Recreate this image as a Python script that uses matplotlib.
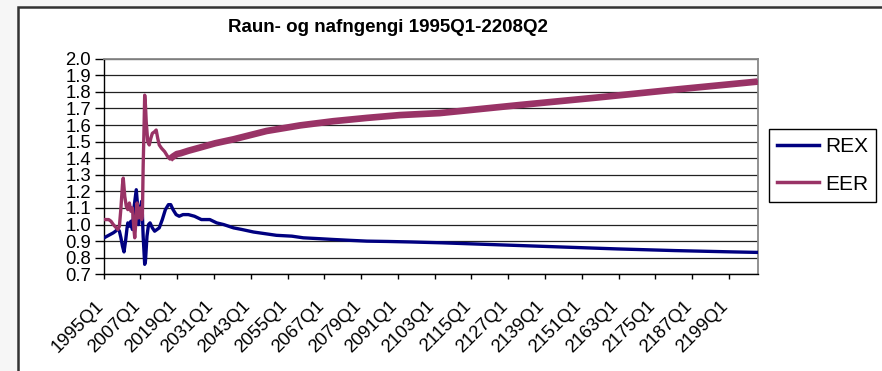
import matplotlib
matplotlib.use("Agg")
import matplotlib.pyplot as plt
from matplotlib.lines import Line2D
from matplotlib.patches import Rectangle
from matplotlib.transforms import ScaledTranslation
import numpy as np

plt.rcParams['font.family'] = ['Liberation Sans', 'DejaVu Sans']

title = "Raun- og nafngengi 1995Q1-2208Q2"
n_quarters = 854  # 1995Q1 .. 2208Q2

tick_labels = ["1995Q1", "2007Q1", "2019Q1", "2031Q1", "2043Q1", "2055Q1",
               "2067Q1", "2079Q1", "2091Q1", "2103Q1", "2115Q1", "2127Q1",
               "2139Q1", "2151Q1", "2163Q1", "2175Q1", "2187Q1", "2199Q1"]
tick_quarters = [0, 48, 96, 144, 192, 240, 288, 336, 384, 432, 480, 528,
                 576, 624, 672, 720, 768, 816]

rex_q = [0, 4, 8, 12, 15, 18, 20, 22, 24, 26, 28, 30, 31, 33, 35, 37, 39, 42,
         44, 45, 47, 49, 50, 51, 53, 54, 56, 58, 60, 63, 66, 69, 72, 76, 80,
         84, 87, 90, 94, 98, 103, 110, 118, 127, 138, 147, 156, 169, 180, 195,
         210, 225, 245, 260, 280, 299, 320, 343, 370, 400, 440, 520, 595, 670,
         745, 821, 853]
rex_v = [0.92, 0.93, 0.94, 0.95, 0.96, 0.975, 0.96, 0.92, 0.87, 0.835, 0.90,
         0.98, 1.01, 0.99, 1.02, 0.97, 1.10, 1.21, 1.10, 1.00, 1.08, 1.14,
         1.06, 0.93, 0.76, 0.78, 0.93, 1.00, 1.01, 0.98, 0.96, 0.97, 0.98,
         1.03, 1.09, 1.12, 1.12, 1.09, 1.06, 1.05, 1.06, 1.06, 1.05, 1.03,
         1.03, 1.01, 1.00, 0.98, 0.97, 0.955, 0.945, 0.935, 0.93, 0.92, 0.915,
         0.91, 0.905, 0.90, 0.898, 0.895, 0.89, 0.877, 0.865, 0.853, 0.843,
         0.835, 0.832]

eer_q = [0, 6, 9, 12, 15, 18, 20, 22, 24, 25, 27, 29, 31, 33, 35, 37, 39, 40,
         42, 43, 45, 47, 49, 50, 51, 52, 53, 54, 55, 57, 59, 61, 63, 66, 68,
         70, 72, 75, 79, 83, 86, 90, 95, 100, 110, 125, 145, 169, 212, 256,
         299, 343, 386, 438, 543, 646, 750, 853]
eer_v = [1.03, 1.03, 1.02, 1.00, 0.985, 0.97, 0.99, 1.10, 1.24, 1.28, 1.17,
         1.11, 1.09, 1.13, 1.08, 1.10, 0.97, 0.92, 1.05, 1.13, 1.04, 1.10,
         1.03, 1.05, 1.35, 1.55, 1.78, 1.72, 1.62, 1.50, 1.48, 1.52, 1.55,
         1.56, 1.57, 1.52, 1.48, 1.46, 1.44, 1.41, 1.395, 1.41, 1.425, 1.43,
         1.445, 1.464, 1.49, 1.514, 1.564, 1.598, 1.623, 1.643, 1.66, 1.672,
         1.721, 1.767, 1.816, 1.862]

REX_COLOR = "#000080"
EER_COLOR = "#993366"

W, H = 882, 371
fig = plt.figure(figsize=(W / 100, H / 100), dpi=100, facecolor="#f6f6f6")

# chart-area frame (extends past right/bottom edge)
frame = Rectangle((17.5 / W, -0.2), 1.2, 0.2 + 1 - 6.5 / H,
                  transform=fig.transFigure, facecolor="white",
                  edgecolor="#333333", linewidth=1.8, zorder=-10)
fig.patches.append(frame)

ax = fig.add_axes([103.7 / W, 1 - 274.3 / H, (758 - 103.7) / W, (274.3 - 58.7) / H])
ax.set_facecolor("white")

xr = np.array(rex_q) + 0.5
xe = np.array(eer_q) + 0.5
ax.plot(xr, rex_v, color=REX_COLOR, lw=2.4, solid_joinstyle="round", zorder=3)
ax.plot(xe, eer_v, color=EER_COLOR, lw=2.4, solid_joinstyle="round", zorder=4)
split = eer_q.index(86)
ax.plot(xe[split:], eer_v[split:], color=EER_COLOR, lw=4.8, zorder=4,
        solid_capstyle="butt")

ax.set_xlim(0, n_quarters)
ax.set_ylim(0.7, 2.0)
yt = np.round(np.arange(0.7, 2.001, 0.1), 1)
ax.set_yticks(yt)
ax.set_yticklabels([f"{v:.1f}" for v in yt])
ax.yaxis.grid(True, color="#222222", lw=0.9)
ax.set_axisbelow(True)

ax.set_xticks(tick_quarters)
ax.set_xticklabels(tick_labels, rotation=45, ha="right", va="top",
                   rotation_mode="anchor")
ax.tick_params(axis="x", length=3.6, width=1, pad=13, labelsize=13.3, direction="out")
ax.tick_params(axis="y", length=6.5, width=1, pad=2.5, labelsize=13.3, direction="out")
for lab in ax.get_xticklabels():
    lab.set_transform(lab.get_transform() + ScaledTranslation(-9 / 100, 0, fig.dpi_scale_trans))

for s in ["left", "bottom"]:
    ax.spines[s].set_color("black")
    ax.spines[s].set_linewidth(1.0)
for s in ["top", "right"]:
    ax.spines[s].set_color("#888888")
    ax.spines[s].set_linewidth(1.3)

fig.text(388.3 / W, 1 - 28 / H, title, ha="center", va="center",
         fontsize=13.5, fontweight="bold")

handles = [Line2D([], [], color=REX_COLOR, lw=2.5),
           Line2D([], [], color=EER_COLOR, lw=2.5)]
leg = fig.legend(handles, ["REX", "EER"], loc="upper left",
                 bbox_to_anchor=(769.3 / W, 1 - 129 / H), borderaxespad=0,
                 fontsize=15, frameon=True, fancybox=False, framealpha=1,
                 edgecolor="black", handlelength=2.0, handletextpad=0.3,
                 labelspacing=0.9, borderpad=0.38)
leg.get_frame().set_linewidth(1.0)

fig.savefig("out.png", dpi=100, facecolor=fig.get_facecolor())
